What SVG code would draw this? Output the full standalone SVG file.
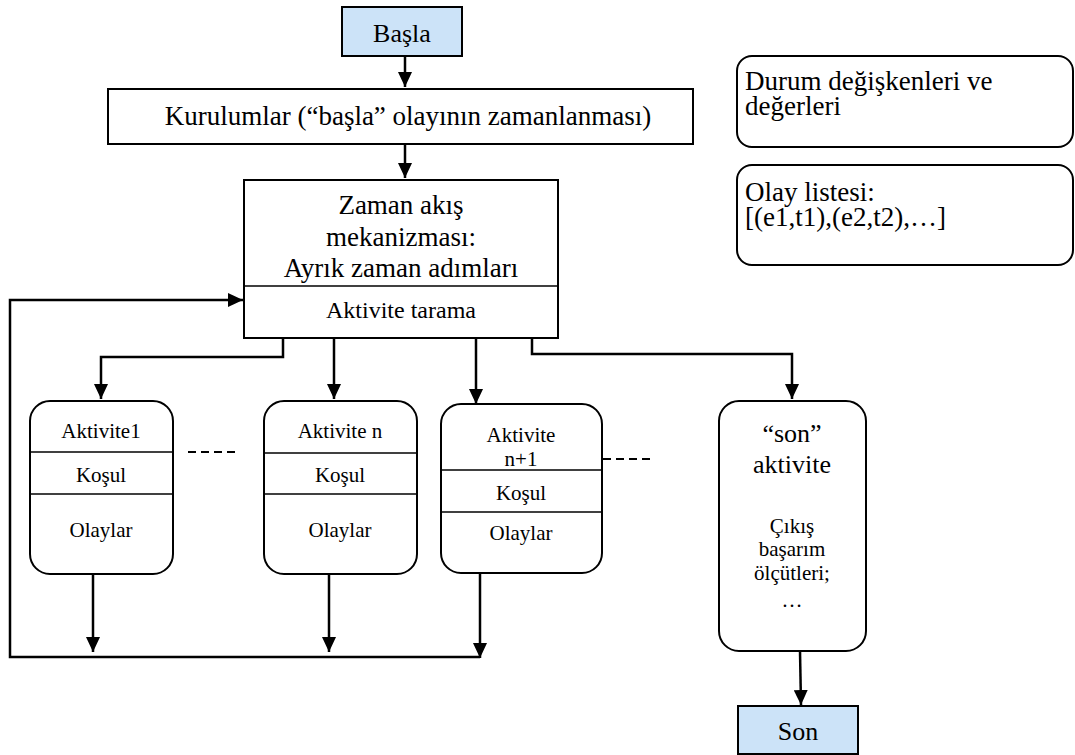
<svg xmlns="http://www.w3.org/2000/svg" width="1075" height="755" viewBox="0 0 1075 755" font-family="'Liberation Serif', 'Times New Roman', serif">
<style>
text{font-family:"Liberation Serif","Times New Roman",serif;fill:#000}
.c{text-anchor:middle}
.box{fill:#fff;stroke:#000;stroke-width:2}
.term{fill:#cce3f8;stroke:#000;stroke-width:2}
.div{stroke:#000;stroke-width:1.4}
.f27{font-size:27px}
.f26{font-size:26px}
.f24{font-size:24px}
.f21{font-size:21px}
.conn path{fill:none;stroke:#000;stroke-width:2.5}
.dash{stroke:#000;stroke-width:1.8;stroke-dasharray:8,5;fill:none}
</style>
<defs>
<marker id="arr" markerUnits="userSpaceOnUse" markerWidth="16" markerHeight="14" refX="15" refY="7" orient="auto">
<path d="M0,0 L15,7 L0,14 Z" fill="#000"/>
</marker>
</defs>
<rect width="1075" height="755" fill="#fff"/>

<g class="conn">
<path d="M405,56 V87" marker-end="url(#arr)"/>
<path d="M405,144 V178" marker-end="url(#arr)"/>
<path d="M283,338 V357 H101 V399" marker-end="url(#arr)"/>
<path d="M334,338 V399" marker-end="url(#arr)"/>
<path d="M476,338 V404" marker-end="url(#arr)"/>
<path d="M532,338 V354 H792 V399" marker-end="url(#arr)"/>
<path d="M93,574 V652" marker-end="url(#arr)"/>
<path d="M329,574 V652" marker-end="url(#arr)"/>
<path d="M480,573 V658" marker-end="url(#arr)"/>
<path d="M480,657 H10 V300 H243" marker-end="url(#arr)"/>
<path d="M800,651 L801,705" marker-end="url(#arr)"/>
<line class="dash" x1="188" y1="452" x2="240" y2="452"/>
<line class="dash" x1="603" y1="459" x2="654" y2="459"/>
</g>

<g id="basla">
<rect class="term" x="342" y="7" width="120" height="49"/>
<text class="c f26" x="402" y="42">Başla</text>
</g>

<g id="kurulumlar">
<rect class="box" x="108" y="89" width="585" height="55"/>
<text class="c f27" x="408" y="125">Kurulumlar (“başla” olayının zamanlanması)</text>
</g>

<g id="zaman">
<rect class="box" x="244" y="180" width="314" height="158"/>
<line class="div" x1="244" y1="286" x2="558" y2="286"/>
<text class="c f27" x="401" y="214">Zaman akış</text>
<text class="c f27" x="401" y="246">mekanizması:</text>
<text class="c f27" x="401" y="277">Ayrık zaman adımları</text>
<text class="c f24" x="401" y="318">Aktivite tarama</text>
</g>

<g id="durum">
<rect class="box" x="737" y="56" width="336" height="91" rx="15"/>
<text class="f27" x="745" y="90">Durum değişkenleri ve</text>
<text class="f27" x="745" y="115">değerleri</text>
</g>

<g id="olay">
<rect class="box" x="737" y="165" width="336" height="100" rx="15"/>
<text class="f27" x="745" y="201">Olay listesi:</text>
<text class="f27" x="745" y="226">[(e1,t1),(e2,t2),…]</text>
</g>

<g id="aktivite1">
<rect class="box" x="30" y="401" width="143" height="173" rx="20"/>
<line class="div" x1="30" y1="452" x2="173" y2="452"/>
<line class="div" x1="30" y1="494" x2="173" y2="494"/>
<text class="c f21" x="101" y="438">Aktivite1</text>
<text class="c f21" x="101" y="482">Koşul</text>
<text class="c f21" x="101" y="537">Olaylar</text>
</g>

<g id="aktiviten">
<rect class="box" x="264" y="401" width="153" height="173" rx="20"/>
<line class="div" x1="264" y1="453" x2="417" y2="453"/>
<line class="div" x1="264" y1="494" x2="417" y2="494"/>
<text class="c f21" x="340" y="438">Aktivite n</text>
<text class="c f21" x="340" y="482">Koşul</text>
<text class="c f21" x="340" y="537">Olaylar</text>
</g>

<g id="aktiviten1">
<rect class="box" x="441" y="404" width="161" height="169" rx="20"/>
<line class="div" x1="441" y1="470" x2="602" y2="470"/>
<line class="div" x1="441" y1="512" x2="602" y2="512"/>
<text class="c f21" x="521" y="442">Aktivite</text>
<text class="c f21" x="521" y="466">n+1</text>
<text class="c f21" x="521" y="500">Koşul</text>
<text class="c f21" x="521" y="540">Olaylar</text>
</g>

<g id="sonaktivite">
<rect class="box" x="719" y="401" width="147" height="250" rx="20"/>
<text class="c f26" x="792" y="442">“son”</text>
<text class="c f26" x="792" y="473">aktivite</text>
<text class="c f21" x="792" y="533">Çıkış</text>
<text class="c f21" x="792" y="556">başarım</text>
<text class="c f21" x="792" y="580">ölçütleri;</text>
<text class="c f21" x="792" y="607">…</text>
</g>

<g id="son">
<rect class="term" x="738" y="706" width="120" height="48"/>
<text class="c f26" x="798" y="740">Son</text>
</g>
</svg>
